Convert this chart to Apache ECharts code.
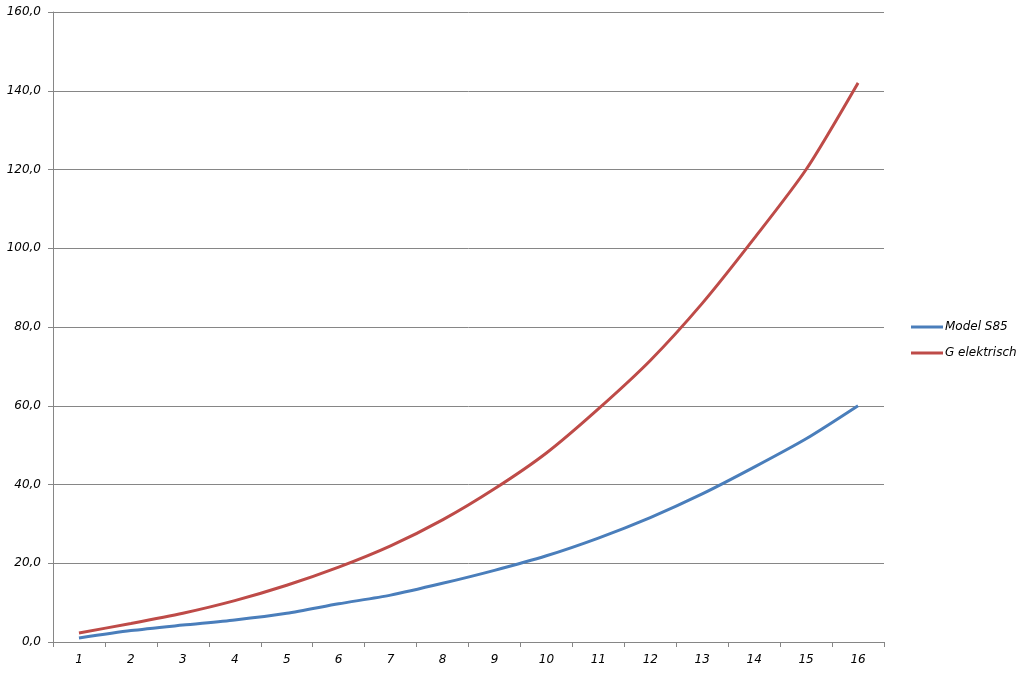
<!DOCTYPE html>
<html>
<head>
<meta charset="utf-8">
<script src="https://cdn.jsdelivr.net/npm/echarts@6/dist/echarts.min.js"></script>
<style>
	html, body { margin: 0; padding: 0; background: #fff; }
	#chart { width: 1024px; height: 675px; }
</style>
</head>
<body>
<div id="chart"></div>
<script>
const categories = ["1", "2", "3", "4", "5", "6", "7", "8", "9", "10", "11", "12", "13", "14", "15", "16"]
const modelS85 = [1.0, 2.9, 4.3, 5.6, 7.3, 9.7, 11.9, 14.9, 18.2, 21.9, 26.4, 31.6, 37.6, 44.4, 51.6, 60.0]
const gElektrisch = [2.3, 4.7, 7.3, 10.5, 14.4, 19.0, 24.4, 31.0, 38.9, 48.0, 59.2, 71.5, 86.0, 102.5, 120.0, 142.0]
const seriesNames = ["Model S85", "G elektrisch"]
const colors = ["#4A7EBB", "#BE4B48"]

const labelFont = {
	color: "#000",
	fontFamily: "DejaVu Sans",
	fontStyle: "italic",
	fontSize: 12
}

const chart = echarts.init(document.getElementById("chart"))
chart.setOption({
	animation: false,
	color: colors,
	grid: { left: 53, right: 140, top: 12, bottom: 33, containLabel: false },
	legend: {
		orient: "vertical",
		left: 906,
		top: 316,
		itemWidth: 32,
		itemHeight: 3,
		itemGap: 14,
		icon: "rect",
		textStyle: { ...labelFont, fontSize: 12, padding: [0, 0, 0, -3] },
		data: seriesNames
	},
	xAxis: {
		type: "category",
		data: categories,
		boundaryGap: true,
		axisLine: { lineStyle: { color: "#868686", width: 1 } },
		axisTick: { show: true, length: 5, interval: 0, lineStyle: { color: "#868686" } },
		axisLabel: { ...labelFont, margin: 12, interval: 0 },
		splitLine: { show: false }
	},
	yAxis: {
		type: "value",
		min: 0,
		max: 160,
		interval: 20,
		axisLine: { show: true, lineStyle: { color: "#868686", width: 1 } },
		axisTick: { show: true, length: 5, lineStyle: { color: "#868686" } },
		axisLabel: {
			...labelFont,
			margin: 12,
			formatter: v => v.toFixed(1).replace(".", ",")
		},
		splitLine: { lineStyle: { color: "#868686", width: 1 } }
	},
	series: [
		{
			name: seriesNames[0],
			type: "line",
			data: modelS85,
			smooth: 0.25,
			showSymbol: false,
			lineStyle: { width: 3, color: colors[0] }
		},
		{
			name: seriesNames[1],
			type: "line",
			data: gElektrisch,
			smooth: 0.25,
			showSymbol: false,
			lineStyle: { width: 3, color: colors[1] }
		}
	]
})
</script>
</body>
</html>
